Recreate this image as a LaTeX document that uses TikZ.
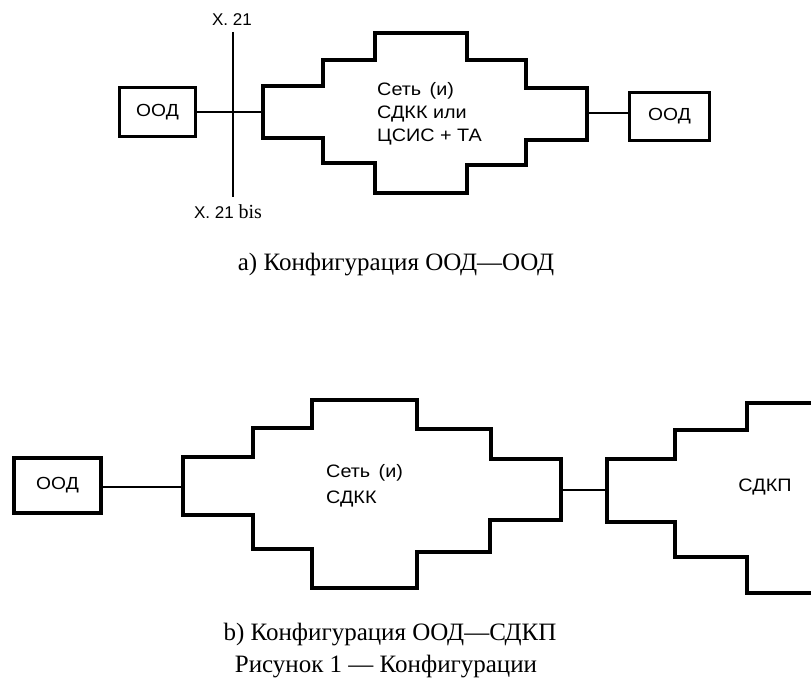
\documentclass[tikz,border=0pt]{standalone}
\usepackage{fontspec}
\setmainfont{Liberation Serif}
\setsansfont{Liberation Sans}
\newfontfamily\widesans[FakeStretch=1.1]{Liberation Sans}
\begin{document}
\begin{tikzpicture}[x=1pt,y=-1pt,
  oodbox/.style={draw, line width=3.2pt, inner sep=0pt, font=\widesans\fontsize{17.5}{20}\selectfont},
  conn/.style={line width=2.3pt},
  cloud/.style={line width=3.2pt, line join=miter},
  lbl/.style={font=\sffamily\fontsize{17}{23}\selectfont, inner sep=0pt},
  wlbl/.style={font=\widesans\fontsize{18}{23}\selectfont, inner sep=0pt},
  capt/.style={font=\fontsize{25}{28}\selectfont, inner sep=0pt}]
\useasboundingbox (0,0) rectangle (811,695);
% ---------- part a ----------
\node[oodbox, minimum width=76pt, minimum height=49pt] (ooda1) at (157.5,112) {ООД};
\node[oodbox, minimum width=80pt, minimum height=48pt] (ooda2) at (669.5,116.5) {ООД};
\coordinate (cal) at (263,112);
\coordinate (car) at (587,113);
\draw[cloud] (263,86) -- (323,86) -- (323,60) -- (375,60) -- (375,33) -- (467,33) -- (467,60)
  -- (526,60) -- (526,88) -- (587,88) -- (587,140) -- (526,140) -- (526,165) -- (467,165)
  -- (467,193) -- (375,193) -- (375,163) -- (323,163) -- (323,138) -- (263,138) -- cycle;
\draw[conn] (ooda1.east) -- (cal);
\draw[conn] (car) -- (ooda2.west |- car);
\coordinate (xt) at (233,32);
\coordinate (xb) at (233,197);
\draw[conn] (xt) -- (xb);
\node[lbl] (x21) at (232,20) {X. 21};
\node[lbl] (x21b) at (228,212) {X. 21 {\rmfamily\fontsize{20}{20}\selectfont bis}};
\node[wlbl, anchor=west, align=left] (neta) at (377,114) {Сеть~\kern3pt(и)\\СДКК или\\ЦСИС + ТА};
\node[capt] (capa) at (396,265) {а) Конфигурация ООД—ООД};
% ---------- part b ----------
\node[oodbox, line width=3.6pt, minimum width=87pt, minimum height=55pt] (oodb) at (57.5,485.5) {ООД};
\coordinate (cbl) at (183,487);
\coordinate (cbr) at (561,490);
\coordinate (cpl) at (607,490);
\draw[cloud] (183,457) -- (253,457) -- (253,428) -- (312,428) -- (312,400) -- (417,400) -- (417,429)
  -- (491,429) -- (491,459) -- (561,459) -- (561,520) -- (490,520) -- (490,552) -- (417,552)
  -- (417,588) -- (312,588) -- (312,549) -- (253,549) -- (253,515) -- (183,515) -- cycle;
\draw[cloud] (811,403) -- (747,403) -- (747,430) -- (675,430) -- (675,459) -- (607,459)
  -- (607,522) -- (675,522) -- (675,557) -- (747,557) -- (747,593) -- (811,593);
\draw[conn] (oodb.east |- cbl) -- (cbl);
\draw[conn] (cbr) -- (cpl);
\node[wlbl, anchor=west, align=left, font=\widesans\fontsize{18}{26}\selectfont] (netb) at (326,486) {Сеть~\kern3pt(и)\\СДКК};
\node[wlbl] (sdkp) at (765,487) {СДКП};
\node[capt] (capb) at (390,635) {b) Конфигурация ООД—СДКП};
\node[capt] (fig) at (386,667) {Рисунок 1 — Конфигурации};
\end{tikzpicture}
\end{document}
